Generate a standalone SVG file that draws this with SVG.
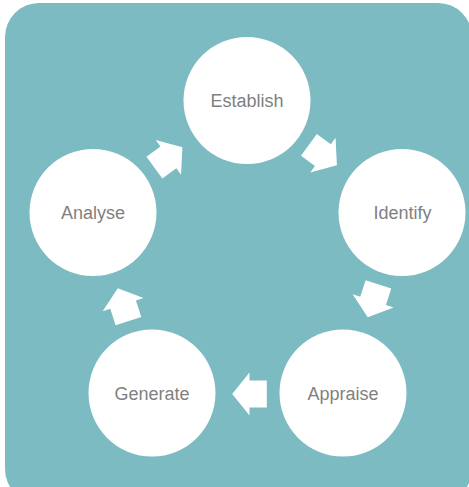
<svg xmlns="http://www.w3.org/2000/svg" width="469" height="487" viewBox="0 0 469 487">
<style>
.node{fill:#ffffff}
.lbl{font-family:"Liberation Sans",Arial,sans-serif;font-size:18px;fill:#7f7f7f;text-anchor:middle}
.arr{fill:#ffffff}
</style>
<defs>
<polygon id="ar" points="-17.3,-13.5 0,-13.5 0,-21.5 17.3,0 0,21.5 0,13.5 -17.3,13.5"/>
</defs>
<rect x="5" y="3" width="467" height="500" rx="34" ry="34" fill="#7bbbc1"/>
<g id="connectors" class="arr">
<use href="#ar" transform="translate(322.9,155.1) rotate(36)"/>
<use href="#ar" transform="translate(373.1,300.8) rotate(108)"/>
<use href="#ar" transform="translate(249.5,394) rotate(180)"/>
<use href="#ar" transform="translate(123.1,304.7) rotate(252)"/>
<use href="#ar" transform="translate(168.4,157.4) rotate(324)"/>
</g>
<g id="establish"><circle class="node" cx="247" cy="100.5" r="63.5"/><text class="lbl" x="247" y="106.5">Establish</text></g>
<g id="identify"><circle class="node" cx="402" cy="212.5" r="63.5"/><text class="lbl" x="402.5" y="219">Identify</text></g>
<g id="appraise"><circle class="node" cx="343" cy="393" r="63.5"/><text class="lbl" x="343" y="400">Appraise</text></g>
<g id="generate"><circle class="node" cx="152" cy="393" r="63.5"/><text class="lbl" x="152" y="400">Generate</text></g>
<g id="analyse"><circle class="node" cx="93" cy="212.5" r="63.5"/><text class="lbl" x="93" y="219">Analyse</text></g>
</svg>
